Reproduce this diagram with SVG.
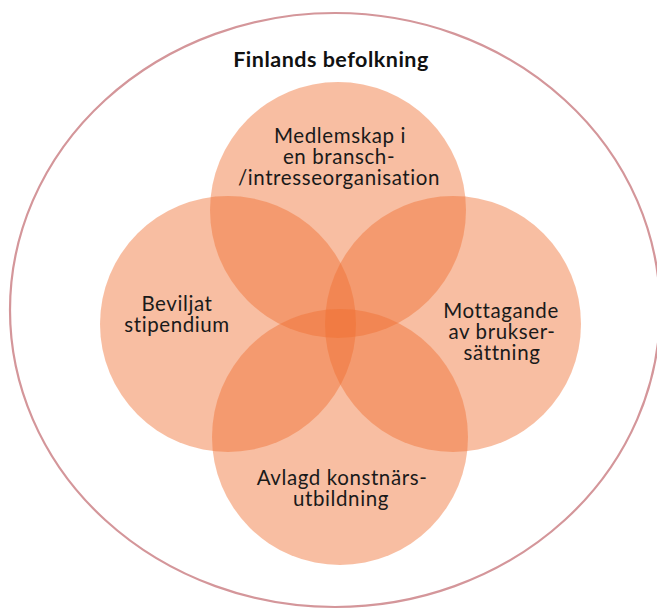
<svg xmlns="http://www.w3.org/2000/svg" width="657" height="609" viewBox="0 0 657 609">
<style>
.set{fill:#ef6f30;fill-opacity:0.45}
.lbl{font-family:Lato,"Noto Sans","Liberation Sans",sans-serif;font-size:20.5px;letter-spacing:0.6px;fill:#1a1a1a;text-anchor:middle}
.ttl{font-family:Lato,"Noto Sans","Liberation Sans",sans-serif;font-size:21.5px;letter-spacing:0.5px;font-weight:bold;fill:#111;text-anchor:middle}
</style>
<rect width="657" height="609" fill="#fff"/>
<g id="population">
<ellipse cx="335" cy="310" rx="325" ry="297" fill="none" stroke="#d4969a" stroke-width="2.2"/>
<text class="ttl" x="331" y="67">Finlands befolkning</text>
</g>
<g id="set-top"><circle class="set" cx="338" cy="210" r="128"/></g>
<g id="set-left"><circle class="set" cx="228" cy="324" r="128"/></g>
<g id="set-right"><circle class="set" cx="453" cy="324" r="128"/></g>
<g id="set-bottom"><circle class="set" cx="340" cy="437" r="128"/></g>
<g id="labels">
<text class="lbl" x="340" y="143"><tspan x="340">Medlemskap i</tspan><tspan x="339" dy="21">en bransch-</tspan><tspan x="339" dy="21">/intresseorganisation</tspan></text>
<text class="lbl" x="177" y="311"><tspan x="177">Beviljat</tspan><tspan x="177" dy="21">stipendium</tspan></text>
<text class="lbl" x="501" y="318"><tspan x="501">Mottagande</tspan><tspan x="502" dy="21">av brukser-</tspan><tspan x="502" dy="21">sättning</tspan></text>
<text class="lbl" x="342" y="485"><tspan x="342">Avlagd konstnärs-</tspan><tspan x="341" dy="21">utbildning</tspan></text>
</g>
<g id="connectors"></g>
</svg>
